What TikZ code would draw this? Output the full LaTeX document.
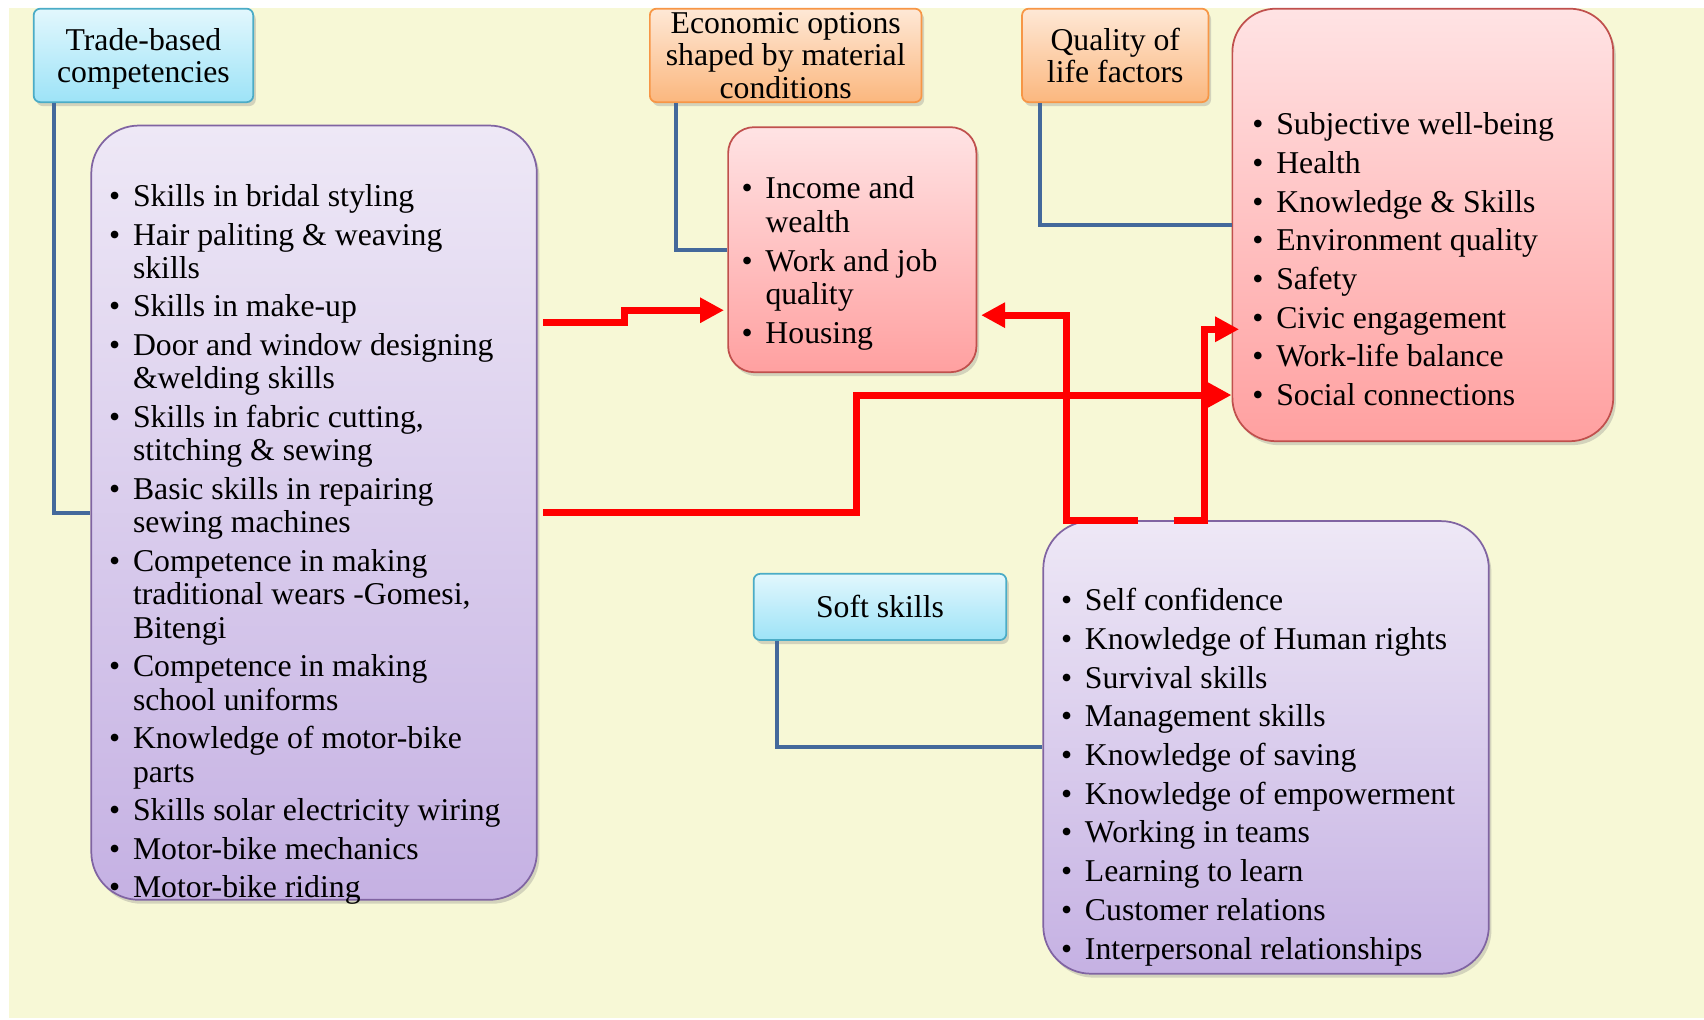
\documentclass[tikz,border=0pt]{standalone}
\usepackage{fontspec}
\setmainfont{Liberation Serif}
\usetikzlibrary{arrows.meta,shadows,fit,calc}
\definecolor{bgyellow}{HTML}{F7F8D6}
\definecolor{cyantop}{HTML}{E2F7FD}
\definecolor{cyanbot}{HTML}{9DE3F7}
\definecolor{cyanline}{HTML}{4BACC6}
\definecolor{orgtop}{HTML}{FEE8D6}
\definecolor{orgbot}{HTML}{FBB77E}
\definecolor{orgline}{HTML}{F79646}
\definecolor{pinktop}{HTML}{FFE3E4}
\definecolor{pinkbot}{HTML}{FFA0A0}
\definecolor{pinkline}{HTML}{C0504D}
\definecolor{purtop}{HTML}{EEE8F6}
\definecolor{purbot}{HTML}{C5B1E3}
\definecolor{purline}{HTML}{8064A2}
\definecolor{linkblue}{HTML}{44699B}
\newcommand{\bul}{\makebox[11pt][l]{\textbullet}}
\newcommand{\cont}{\hspace*{11pt}}
\tikzset{
  shadowed/.style={drop shadow={shadow xshift=1.2pt,shadow yshift=-1.8pt,opacity=0.3,fill=black!50}},
  hdrbox/.style={rectangle, rounded corners=3pt, inner sep=0pt, line width=0.8pt, shadowed},
  hdrtext/.style={inner sep=0pt, align=center, font=\fontsize{14.6}{15}\selectfont},
  cyanbox/.style={hdrbox, draw=cyanline, top color=cyantop, bottom color=cyanbot},
  orgbox/.style={hdrbox, draw=orgline, top color=orgtop, bottom color=orgbot},
  cbox/.style={rectangle, inner sep=0pt, line width=0.8pt, shadowed},
  pinkbox/.style={cbox, draw=pinkline, top color=pinktop, bottom color=pinkbot},
  purbox/.style={cbox, draw=purline, top color=purtop, bottom color=purbot},
  listtext/.style={anchor=north west, inner sep=0pt, align=left, font=\fontsize{14.6}{15.4}\selectfont},
  bluelink/.style={draw=linkblue, line width=1.9pt, line join=miter},
  redarrow/.style={draw=red, line width=3.2pt, line join=miter, -{Triangle[length=11pt,width=11pt]}},
}
\begin{document}
\begin{tikzpicture}[x=0.5pt,y=-0.5pt]
\path[use as bounding box, fill=white] (0,0) rectangle (1568,937.7);
\fill[bgyellow] (8,7.5) rectangle (1568,937);

% header boxes
\node[cyanbox, fit={(31,8) (233,94)}] (tb) {};
\node[orgbox, fit={(598,8) (848,94)}] (eh) {};
\node[orgbox, fit={(940.5,8) (1112,94)}] (qh) {};
\node[cyanbox, fit={(693.5,528) (926,589)}] (sh) {};
\node[hdrtext] (tbt) at ($(tb.center)+(0,3)$) {Trade-based\\competencies};
\node[hdrtext] (eht) at (eh.center) {Economic options\\shaped by material\\conditions};
\node[hdrtext] (qht) at (qh.center) {Quality of\\life factors};
\node[hdrtext] (sht) at (sh.center) {Soft skills};

% content boxes
\node[purbox, rounded corners=22pt, fit={(84,115.5) (494,828)}] (lb) {};
\node[pinkbox, rounded corners=12pt, fit={(670,117) (898.5,342.5)}] (eb) {};
\node[pinkbox, rounded corners=20pt, fit={(1134,8) (1484.5,406)}] (qb) {};
\node[purbox, rounded corners=22pt, fit={(960,479.5) (1370,896)}] (sb) {};

% list texts
\node[listtext] (lbt) at (100,168.1) {\strut\bul Skills in bridal styling\\[2.3pt]%
\bul Hair paliting \& weaving\\ \cont skills\\[2.3pt]%
\bul Skills in make-up\\[2.3pt]%
\bul Door and window designing\\ \cont \&welding skills\\[2.3pt]%
\bul Skills in fabric cutting,\\ \cont stitching \& sewing\\[2.3pt]%
\bul Basic skills in repairing\\ \cont sewing machines\\[2.3pt]%
\bul Competence in making\\ \cont traditional wears -Gomesi,\\ \cont Bitengi\\[2.3pt]%
\bul Competence in making\\ \cont school uniforms\\[2.3pt]%
\bul Knowledge of motor-bike\\ \cont parts\\[2.3pt]%
\bul Skills solar electricity wiring\\[2.3pt]%
\bul Motor-bike mechanics\\[2.3pt]%
\bul Motor-bike riding};

\node[listtext] (ebt) at (682,161.1) {\strut\bul Income and\\ \cont wealth\\[2.4pt]%
\bul Work and job\\ \cont quality\\[2.4pt]%
\bul Housing};

\node[listtext] (qbt) at (1152,102.1) {\strut\bul Subjective well-being\\[2.4pt]%
\bul Health\\[2.4pt]%
\bul Knowledge \& Skills\\[2.4pt]%
\bul Environment quality\\[2.4pt]%
\bul Safety\\[2.4pt]%
\bul Civic engagement\\[2.4pt]%
\bul Work-life balance\\[2.4pt]%
\bul Social connections};

\node[listtext] (sbt) at (976,540.1) {\strut\bul Self confidence\\[2.4pt]%
\bul Knowledge of Human rights\\[2.4pt]%
\bul Survival skills\\[2.4pt]%
\bul Management skills\\[2.4pt]%
\bul Knowledge of saving\\[2.4pt]%
\bul Knowledge of empowerment\\[2.4pt]%
\bul Working in teams\\[2.4pt]%
\bul Learning to learn\\[2.4pt]%
\bul Customer relations\\[2.4pt]%
\bul Interpersonal relationships};

% blue links
\draw[bluelink] ($(tb.south west)+(19.3,0)$) |- (lb.west);
\draw[bluelink] ($(eh.south west)+(24.7,0)$) |- (eb.west);
\draw[bluelink] ($(qh.south west)+(17.1,0)$) |- (qb.west);
\draw[bluelink] ($(sh.south west)+(22.5,0)$) |- (sb.west);

% red arrows
\draw[redarrow] ($(lb.east |- 0,297)+(5,0)$) -- (575,297) -- (575,285.5) -- ($(eb.west |- 0,285.5)+(-3,0)$);
\draw[redarrow] ($(lb.east |- 0,472)+(5,0)$) -- (788,472) -- (788,363.5) -- (qb.west |- 0,363.5);
\draw[redarrow] (1047,0 |- sb.north) -- (981,0 |- sb.north) -- (981,290) -- ($(eb.east |- 0,290)+(3.5,0)$);
\draw[redarrow] (1080,0 |- sb.north) -- (1108,0 |- sb.north) -- (1108,303) -- ($(qb.west |- 0,303)+(7,0)$);
\end{tikzpicture}
\end{document}
